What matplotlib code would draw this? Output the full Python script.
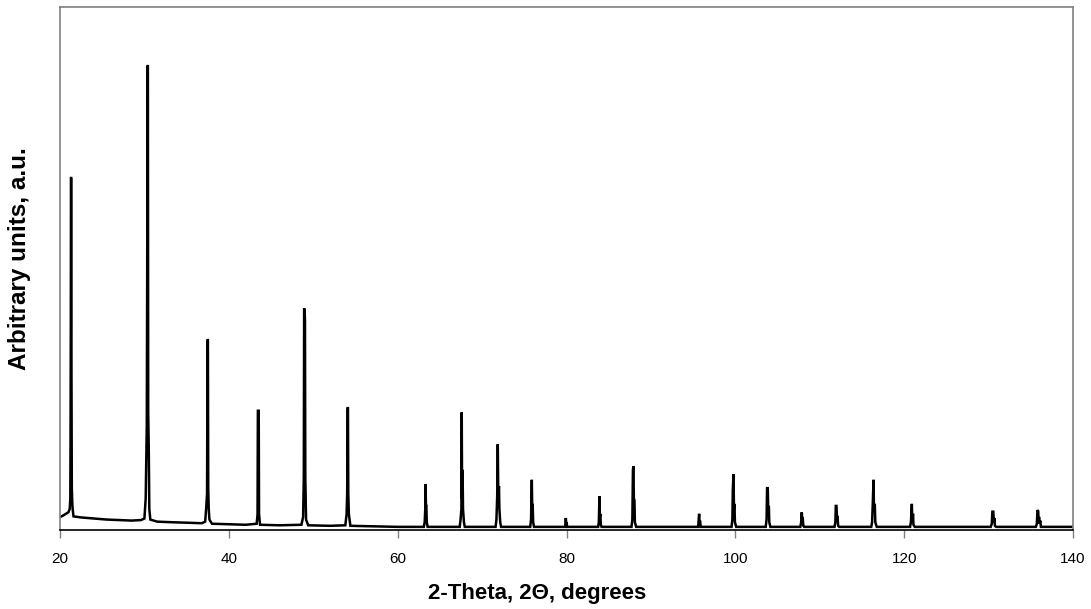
import matplotlib
matplotlib.use("Agg")
import matplotlib.pyplot as plt

plt.rcParams['font.family'] = ['Liberation Sans', 'DejaVu Sans']

# Diffraction trace vertices (2-theta in degrees, arbitrary intensity)
two_theta = [
    20.0, 20.3, 20.6, 21.0, 21.15, 21.22, 21.25, 21.28, 21.30, 21.33, 21.36, 21.40, 21.45, 21.5, 21.6,
    22.5, 24.0, 25.5, 27.0, 28.5, 29.6, 30.0, 30.15, 30.2, 30.28, 30.33, 30.37, 30.41, 30.45, 30.52,
    30.58, 30.7, 31.5, 33.0, 35.0, 36.8, 37.2, 37.35, 37.42, 37.48, 37.52, 37.56, 37.62, 37.7, 38.0,
    40.0, 42.0, 43.3, 43.40, 43.44, 43.54, 43.58, 43.7, 46.0, 48.6, 48.8, 48.88, 48.92, 48.98, 49.02,
    49.06, 49.15, 49.4, 52.0, 53.8, 53.95, 54.02, 54.07, 54.11, 54.15, 54.22, 54.4, 57.0, 60.0,
    63.1, 63.2, 63.27, 63.31, 63.35, 63.40, 63.45, 63.55,
    67.35, 67.45, 67.55, 67.59, 67.63, 67.69, 67.74, 67.85, 67.95,
    71.6, 71.7, 71.8, 71.86, 71.92, 72.0, 72.05, 72.15, 72.25,
    75.7, 75.8, 75.89, 75.94, 75.99, 76.05, 76.15,
    79.85, 79.92, 79.97, 80.0, 80.08,
    83.75, 83.83, 83.90, 83.95, 84.0, 84.07, 84.15,
    87.7, 87.8, 87.87, 87.93, 87.98, 88.05, 88.1, 88.25,
    95.6, 95.71, 95.76, 95.82, 95.9,
    99.55, 99.65, 99.70, 99.78, 99.84, 99.9, 99.95, 100.1,
    103.6, 103.7, 103.76, 103.84, 103.9, 103.97, 104.02, 104.15,
    107.7, 107.8, 107.87, 107.93, 107.98, 108.05, 108.15,
    111.75, 111.85, 111.9, 111.98, 112.05, 112.1, 112.18, 112.3,
    116.1, 116.2, 116.28, 116.37, 116.43, 116.52, 116.58, 116.75,
    120.7, 120.8, 120.85, 120.91, 120.96, 121.05, 121.1, 121.25,
    130.25, 130.38, 130.45, 130.56, 130.62, 130.68, 130.75, 130.9,
    135.6, 135.72, 135.79, 135.88, 135.93, 135.98, 136.05, 136.12, 136.2, 140.0,
]
intensity = [
    25, 27, 30, 34, 40, 60, 178, 400, 673, 673, 300, 80, 54, 40, 26,
    24, 22, 20, 19, 18, 19, 22, 60, 115, 200, 500, 887, 887, 224, 150,
    40, 20, 16, 15, 14, 13, 16, 50, 70, 363, 363, 80, 40, 20, 12,
    11, 10, 12, 30, 228, 228, 30, 10, 9, 10, 25, 100, 424, 418, 400,
    100, 20, 9, 8, 9, 30, 71, 233, 233, 71, 30, 8, 7, 6,
    6, 15, 40, 88, 46, 46, 15, 6,
    6, 20, 40, 225, 60, 115, 40, 15, 6,
    6, 20, 70, 164, 60, 84, 40, 15, 6,
    6, 20, 96, 40, 50, 15, 6,
    6, 23, 12, 15, 6,
    6, 15, 65, 25, 31, 10, 6,
    6, 20, 115, 122, 60, 57, 15, 6,
    6, 31, 15, 18, 6,
    6, 20, 76, 107, 40, 50, 15, 6,
    6, 20, 80, 80, 40, 46, 15, 6,
    6, 15, 34, 18, 25, 8, 6,
    6, 15, 46, 46, 20, 27, 8, 6,
    6, 15, 50, 96, 35, 50, 15, 6,
    6, 15, 33, 50, 15, 31, 10, 6,
    6, 12, 35, 35, 15, 23, 8, 6,
    6, 12, 38, 36, 15, 25, 12, 18, 6, 6,
]

x_ticks = [20, 40, 60, 80, 100, 120, 140]

fig = plt.figure(figsize=(10.91, 6.09), dpi=100)
ax = fig.add_axes([60 / 1091, 79 / 609, 1013 / 1091, 523 / 609])

ax.plot(two_theta, intensity, color='black', linewidth=1.8, solid_joinstyle='miter')

ax.set_xlim(20, 140)
ax.set_ylim(0, 1000)
ax.set_xticks(x_ticks)
ax.set_xticklabels([str(t) for t in x_ticks], fontsize=11)
ax.set_yticks([])
ax.tick_params(axis='x', direction='out', length=6, width=1, color='#808080', pad=10)

for side in ['top', 'right', 'left']:
    ax.spines[side].set_color('#808080')
    ax.spines[side].set_linewidth(1.2)
ax.spines['bottom'].set_color('black')
ax.spines['bottom'].set_linewidth(1.2)

fig.text(537 / 1091, 1 - 593 / 609, '2-Theta, 2Θ, degrees', fontsize=16,
         fontweight='bold', ha='center', va='center')
fig.text(20 / 1091, 1 - 259 / 609, 'Arbitrary units, a.u.', fontsize=17.5,
         fontweight='bold', ha='center', va='center', rotation=90)

fig.savefig('out.png', dpi=100)
